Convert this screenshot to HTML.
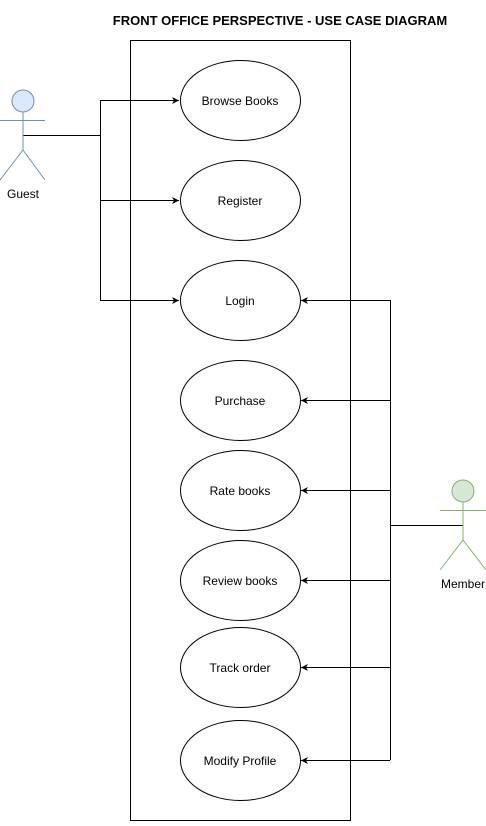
<!DOCTYPE html>
<html><head><style>body{margin:0;background:#fff}</style></head><body>
<svg width="486" height="821" xmlns="http://www.w3.org/2000/svg" font-family="Liberation Sans, sans-serif">
<defs><marker id="a" markerWidth="8" markerHeight="8" refX="7" refY="4" orient="auto" markerUnits="userSpaceOnUse"><path d="M0,0.5 L7,4 L0,7.5 L2,4 Z" fill="#000"/></marker></defs>
<text x="280" y="25" font-size="13" font-weight="bold" text-anchor="middle">FRONT OFFICE PERSPECTIVE - USE CASE DIAGRAM</text>
<rect x="130.5" y="40.5" width="220" height="780" fill="#fff" stroke="#000"/>
<g fill="#fff" stroke="#000" transform="translate(0.5,0.5)">
<ellipse cx="240" cy="100" rx="60" ry="40"/><ellipse cx="240" cy="200" rx="60" ry="40"/><ellipse cx="240" cy="300" rx="60" ry="40"/><ellipse cx="240" cy="400" rx="60" ry="40"/><ellipse cx="240" cy="490" rx="60" ry="40"/><ellipse cx="240" cy="580" rx="60" ry="40"/><ellipse cx="240" cy="667" rx="60" ry="40"/><ellipse cx="240" cy="760" rx="60" ry="40"/>
</g>
<g font-size="12" text-anchor="middle">
<text x="240" y="105">Browse Books</text><text x="240" y="205">Register</text><text x="240" y="305">Login</text><text x="240" y="405">Purchase</text><text x="240" y="495">Rate books</text><text x="240" y="585">Review books</text><text x="240" y="672">Track order</text><text x="240" y="765">Modify Profile</text>
</g>
<g stroke="#000" fill="none">
<path d="M23,135.5 H100.5 M100.5,100 V300"/>
<path d="M100,100.5 H179" marker-end="url(#a)"/><path d="M100,200.5 H179" marker-end="url(#a)"/><path d="M100,300.5 H179" marker-end="url(#a)"/>
<path d="M463,525.5 H390.5 M390.5,300 V760"/>
<path d="M390,300.5 H301" marker-end="url(#a)"/><path d="M390,400.5 H301" marker-end="url(#a)"/><path d="M390,490.5 H301" marker-end="url(#a)"/><path d="M390,580.5 H301" marker-end="url(#a)"/><path d="M390,667.5 H301" marker-end="url(#a)"/><path d="M390,760.5 H301" marker-end="url(#a)"/>
</g>
<g stroke="#6c8ebf" fill="none"><circle cx="23" cy="101" r="11" fill="#dae8fc"/><path d="M23,112 V150 M0,120.5 H45 M23,150 L0,180 M23,150 L45,180"/></g>
<text x="23" y="198" font-size="12" text-anchor="middle">Guest</text>
<g stroke="#82b366" fill="none"><circle cx="463" cy="491" r="11" fill="#d5e8d4"/><path d="M463,502 V540 M440,510.5 H486 M463,540 L440,570 M463,540 L486,570"/></g>
<text x="463" y="588" font-size="12" text-anchor="middle">Member</text>
</svg>
</body></html>
